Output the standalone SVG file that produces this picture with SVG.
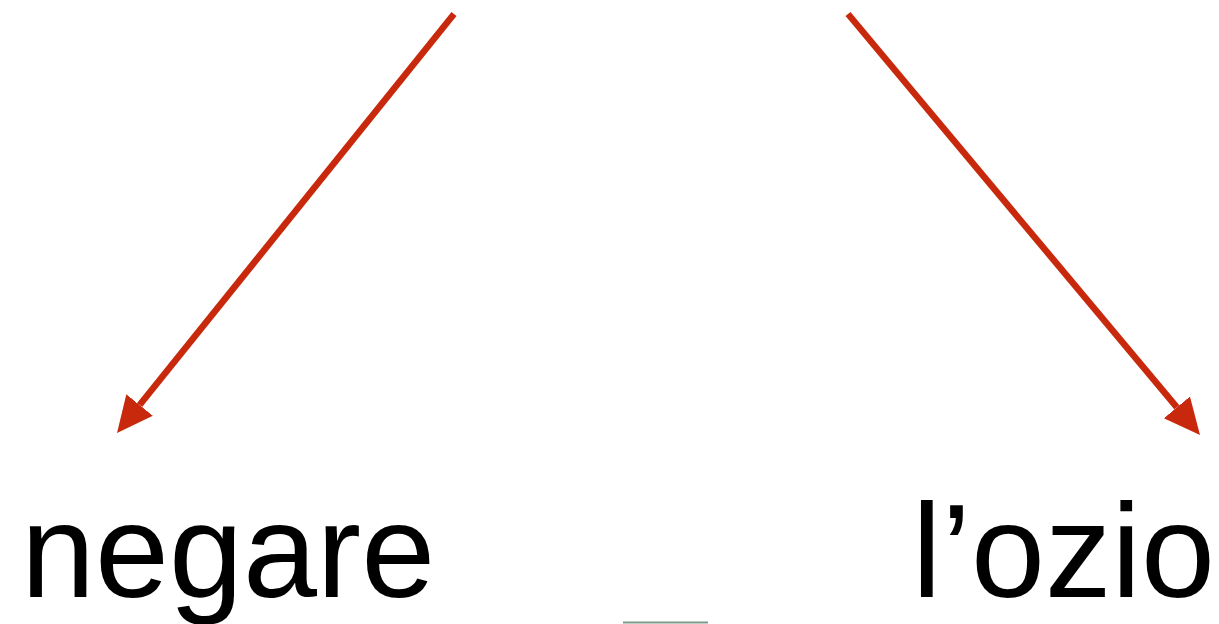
<svg xmlns="http://www.w3.org/2000/svg" width="1219" height="624" viewBox="0 0 1219 624">
<style>
.lbl{font-family:"Liberation Sans",Arial,sans-serif;font-size:133px;fill:#000}
.conn{stroke:#c8290c;stroke-width:6.5;fill:none}
</style>
<defs>
<marker id="ah" markerUnits="userSpaceOnUse" markerWidth="40" markerHeight="40" viewBox="0 -20 40 40" refX="0" refY="0" orient="auto">
<path d="M0,-17 L36,0 L0,17 z" fill="#c8290c"/>
</marker>
</defs>
<rect width="1219" height="624" fill="#fff"/>
<g id="connectors">
<line class="conn" x1="454" y1="14" x2="139.6" y2="405" marker-end="url(#ah)"/>
<line class="conn" x1="848" y1="14" x2="1176.9" y2="407.4" marker-end="url(#ah)"/>
</g>
<g id="node-negare"><text class="lbl" x="21" y="597">negare</text></g>
<g id="node-ozio"><text class="lbl" x="912" y="597">l’ozio</text></g>
<line x1="623" y1="622.5" x2="708" y2="622.5" stroke="#7a9c88" stroke-width="2"/>
</svg>
